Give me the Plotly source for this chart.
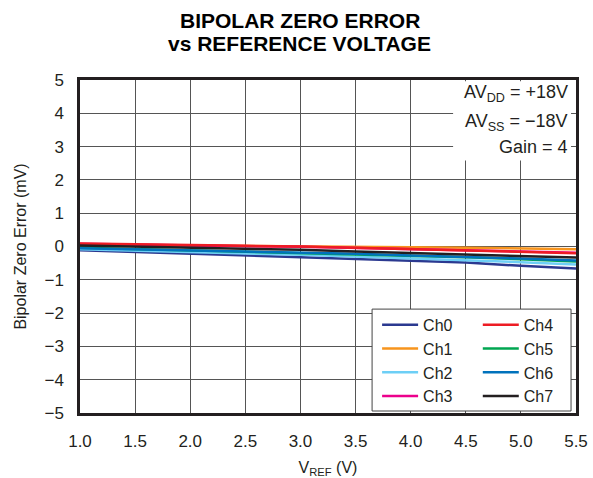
import plotly.graph_objects as go

# ---- data ----
vref = [1.0, 1.5, 2.0, 2.5, 3.0, 3.5, 4.0, 4.5, 5.0, 5.5]
ch0 = [-0.11, -0.16, -0.22, -0.26, -0.31, -0.36, -0.43, -0.48, -0.58, -0.66]
ch1 = [0.06, 0.05, 0.04, 0.03, 0.02, 0.00, -0.02, -0.04, -0.06, -0.08]
ch2 = [-0.08, -0.13, -0.17, -0.21, -0.25, -0.30, -0.36, -0.40, -0.47, -0.54]
ch3 = [0.08, 0.05, 0.03, 0.01, -0.01, -0.04, -0.08, -0.11, -0.15, -0.19]
ch4 = [0.09, 0.06, 0.04, 0.02, 0.00, -0.04, -0.08, -0.12, -0.16, -0.20]
ch5 = [-0.04, -0.08, -0.11, -0.14, -0.18, -0.23, -0.28, -0.32, -0.38, -0.45]
ch6 = [-0.05, -0.08, -0.11, -0.14, -0.17, -0.22, -0.27, -0.31, -0.36, -0.42]
ch7 = [0.03, 0.00, -0.03, -0.06, -0.10, -0.15, -0.20, -0.24, -0.29, -0.33]

names = ["Ch0", "Ch1", "Ch2", "Ch3", "Ch4", "Ch5", "Ch6", "Ch7"]
series = [ch0, ch1, ch2, ch3, ch4, ch5, ch6, ch7]
colors = ["#2B3990", "#F7941D", "#6DCFF6", "#EC008C",
          "#ED1C24", "#00A651", "#0072BC", "#231F20"]

x_ticks = [1.0, 1.5, 2.0, 2.5, 3.0, 3.5, 4.0, 4.5, 5.0, 5.5]
y_ticks = [5, 4, 3, 2, 1, 0, -1, -2, -3, -4, -5]

title_lines = ["BIPOLAR ZERO ERROR", "vs REFERENCE VOLTAGE"]
conds = ["AV<sub>DD</sub> = +18V", "AV<sub>SS</sub> = \u221218V", "Gain = 4"]

FONT = "Liberation Sans, Arial, sans-serif"

fig = go.Figure()
for i, (n, s, c) in enumerate(zip(names, series, colors)):
    fig.add_trace(go.Scatter(
        x=vref, y=s, name=n, mode="lines",
        line=dict(color=c, width=2.5),
        legend="legend" if i < 4 else "legend2",
    ))

fig.update_layout(
    width=593, height=478,
    margin=dict(l=80, r=17, t=80, b=65, autoexpand=False),
    paper_bgcolor="white", plot_bgcolor="white",
    font=dict(family=FONT, color="#231F20", size=17),
    xaxis=dict(
        range=[1.0, 5.5], tickvals=x_ticks, tickformat=".1f",
        showgrid=True, gridcolor="#555", gridwidth=1,
        showline=True, linecolor="#231F20", linewidth=2.5, mirror=True,
        ticks="", ticklabelstandoff=11, automargin=False,
        title=dict(text="V<sub>REF</sub> (V)", font=dict(size=16), standoff=14),
        zeroline=False,
    ),
    yaxis=dict(
        range=[-5, 5], tickvals=y_ticks,
        showgrid=True, gridcolor="#555", gridwidth=1,
        showline=True, linecolor="#231F20", linewidth=2.5, mirror=True,
        ticks="", ticklabelstandoff=10, automargin=False,
        title=dict(text="Bipolar Zero Error (mV)", font=dict(size=16), standoff=14),
        zeroline=False,
    ),
    legend=dict(
        x=0.599, y=0.316, xanchor="left", yanchor="top",
        bgcolor="rgba(0,0,0,0)", borderwidth=0, itemwidth=36,
        font=dict(size=16, family=FONT), tracegroupgap=0,
    ),
    legend2=dict(
        x=0.802, y=0.316, xanchor="left", yanchor="top",
        bgcolor="rgba(0,0,0,0)", borderwidth=0, itemwidth=36,
        font=dict(size=16, family=FONT), tracegroupgap=0,
    ),
    showlegend=True,
)

# title (two lines)
for t, yy in zip(title_lines, [1.180, 1.111]):
    fig.add_annotation(text="<b>" + t + "</b>", xref="paper", yref="paper",
                       x=0.4435, y=yy, xanchor="center", yanchor="middle",
                       showarrow=False, font=dict(size=21, family=FONT, color="#000"))

# white boxes behind the condition text and the legend
fig.add_shape(type="rect", xref="x", yref="y", x0=4.385, x1=5.455, y0=2.58, y1=4.96,
              fillcolor="white", line=dict(width=0), layer="above")
fig.add_shape(type="rect", xref="x", yref="y", x0=3.65, x1=5.455, y0=-4.94, y1=-1.88,
              fillcolor="white", line=dict(color="#444", width=1), layer="above")

cond_y = [0.958, 0.873, 0.798]
for t, yy in zip(conds, cond_y):
    fig.add_annotation(text=t, xref="paper", yref="paper", x=0.988, y=yy,
                       xanchor="right", yanchor="middle", showarrow=False,
                       font=dict(size=18, family=FONT, color="#231F20"))

fig.write_html(
    "out.html",
    config={"displayModeBar": False},
    post_script="document.documentElement.style.margin='0';"
                "document.body.style.margin='0';"
                "document.body.style.overflow='hidden';",
)
